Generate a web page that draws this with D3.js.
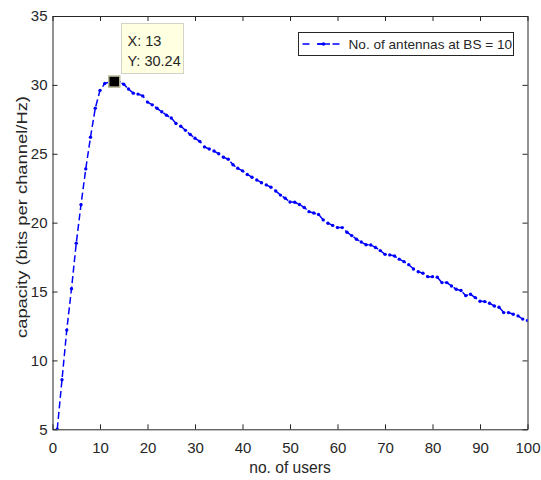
<!DOCTYPE html>
<html>
<head>
<meta charset="utf-8">
<script src="https://cdn.jsdelivr.net/npm/d3@7"></script>
<style>
  body { margin: 0; background: #fff; }
  svg { display: block; }
  text { font-family: "Liberation Sans", Arial, sans-serif; fill: #262626; }
</style>
</head>
<body>
<div id="chart"></div>
<script>
// capacity vs number of users
var users = d3.range(1, 101)
var capacity = [
    5.0, 8.6, 12.2, 15.2, 18.5, 21.3, 23.9, 26.2, 28.3, 29.6,
    30.1, 30.2, 30.24, 30.22, 30.05, 29.7, 29.4, 29.33, 29.2, 28.75,
    28.55, 28.3, 28.05, 27.8, 27.6, 27.2, 27.0, 26.7, 26.4, 26.13,
    25.9, 25.5, 25.35, 25.2, 25.0, 24.75, 24.6, 24.2, 23.95, 23.76,
    23.5, 23.3, 23.1, 22.9, 22.74, 22.57, 22.3, 22.0, 21.77, 21.5,
    21.48, 21.32, 21.1, 20.8, 20.7, 20.6, 20.2, 19.96, 19.8, 19.64,
    19.64, 19.3, 19.06, 18.8, 18.6, 18.4, 18.38, 18.2, 17.97, 17.7,
    17.66, 17.58, 17.35, 17.17, 16.95, 16.64, 16.44, 16.33, 16.08, 16.08,
    16.04, 15.65, 15.65, 15.4, 15.17, 15.07, 14.7, 14.8, 14.56, 14.3,
    14.27, 14.15, 13.95, 13.86, 13.47, 13.47, 13.35, 13.23, 13.0, 12.9
]
var xTicks = [0, 10, 20, 30, 40, 50, 60, 70, 80, 90, 100]
var yTicks = [5, 10, 15, 20, 25, 30, 35]
var seriesName = "No. of antennas at BS = 10"
var tipIndex = 12

const width = 541
const height = 480
const margins = { top: 16, right: 13.5, bottom: 50.7, left: 52.5 }

const data = users.map((u, i) => ({ x: u, y: capacity[i] }))

const svg = d3.select("#chart").append("svg")
    .attr("width", width)
    .attr("height", height)

const x = d3.scaleLinear().domain([0, 100]).range([margins.left, width - margins.right])
const y = d3.scaleLinear().domain([5, 35]).range([height - margins.bottom, margins.top])

const plotW = width - margins.right - margins.left
const plotH = height - margins.bottom - margins.top

svg.append("clipPath").attr("id", "plot-clip")
    .append("rect")
    .attr("x", margins.left).attr("y", margins.top)
    .attr("width", plotW).attr("height", plotH)

// axes, ticks pointing inwards, mirrored on top and right
function styleAxis(g) {
    g.selectAll("path").attr("stroke", "#262626")
    g.selectAll("line").attr("stroke", "#262626")
    g.selectAll("text").style("font-size", "15px").attr("fill", "#262626")
}

svg.append("g")
    .attr("transform", `translate(0,${height - margins.bottom})`)
    .call(d3.axisBottom(x).tickValues(xTicks).tickSize(-5).tickSizeOuter(0).tickPadding(13))
    .call(styleAxis)
svg.append("g")
    .attr("transform", `translate(0,${margins.top})`)
    .call(d3.axisTop(x).tickValues(xTicks).tickSize(-5).tickSizeOuter(0).tickFormat(""))
    .call(styleAxis)
svg.append("g")
    .attr("transform", `translate(${margins.left},0)`)
    .call(d3.axisLeft(y).tickValues(yTicks).tickSize(-5).tickSizeOuter(0).tickPadding(5))
    .call(styleAxis)
svg.append("g")
    .attr("transform", `translate(${width - margins.right},0)`)
    .call(d3.axisRight(y).tickValues(yTicks).tickSize(-5).tickSizeOuter(0).tickFormat(""))
    .call(styleAxis)

svg.selectAll(".domain").attr("fill", "none")

// labels
svg.append("text")
    .text("no. of users")
    .attr("x", (x(0) + x(100)) / 2)
    .attr("y", 472.5)
    .attr("text-anchor", "middle")
    .style("font-size", "15.6px")
svg.append("text")
    .text("capacity (bits per channel/Hz)")
    .attr("transform", `translate(27,217) rotate(-90)`)
    .attr("text-anchor", "middle")
    .attr("textLength", 242)
    .attr("lengthAdjust", "spacingAndGlyphs")
    .style("font-size", "14px")

// the series
const plot = svg.append("g").attr("clip-path", "url(#plot-clip)")
plot.append("path")
    .datum(data)
    .attr("fill", "none")
    .attr("stroke", "#0000ff")
    .attr("stroke-width", 1.5)
    .attr("stroke-dasharray", "7,3.5")
    .attr("d", d3.line().x(d => x(d.x)).y(d => y(d.y)))
plot.selectAll(".dot")
    .data(data)
    .enter()
    .append("circle")
    .attr("class", "dot")
    .attr("cx", d => x(d.x))
    .attr("cy", d => y(d.y))
    .attr("r", 1.7)
    .attr("fill", "#0000ff")

// legend
const legend = svg.append("g")
legend.append("rect")
    .attr("x", 298.5).attr("y", 32.5)
    .attr("width", 215).attr("height", 23)
    .attr("fill", "#fff")
    .attr("stroke", "#262626")
    .attr("stroke-width", 1)
legend.append("line")
    .attr("x1", 302.5).attr("x2", 345.5)
    .attr("y1", 44).attr("y2", 44)
    .attr("stroke", "#0000ff")
    .attr("stroke-width", 1.5)
    .attr("stroke-dasharray", "7,8")
legend.append("line")
    .attr("x1", 317).attr("x2", 330)
    .attr("y1", 44).attr("y2", 44)
    .attr("stroke", "#0000ff")
    .attr("stroke-width", 1.5)
legend.append("circle")
    .attr("cx", 323.5).attr("cy", 44).attr("r", 1.7)
    .attr("fill", "#0000ff")
legend.append("text")
    .text(seriesName)
    .attr("x", 348.5)
    .attr("y", 49)
    .style("font-size", "13.6px")
    .attr("fill", "#000")

// data tip
const tip = data[tipIndex]
svg.append("rect")
    .attr("x", x(tip.x) - 5.5).attr("y", y(tip.y) - 5.5)
    .attr("width", 11).attr("height", 11)
    .attr("fill", "#000")
    .attr("stroke", "#b4b496")
    .attr("stroke-width", 1.5)
const tipBox = svg.append("g")
tipBox.append("rect")
    .attr("x", 121.5).attr("y", 23.5)
    .attr("width", 62).attr("height", 50)
    .attr("fill", "#ffffe1")
    .attr("stroke", "#d2d2c8")
    .attr("stroke-width", 1)
tipBox.append("text")
    .text(`X: ${tip.x}`)
    .attr("x", 127.5).attr("y", 46)
    .style("font-size", "14.5px")
    .attr("fill", "#000")
tipBox.append("text")
    .text(`Y: ${tip.y.toFixed(2)}`)
    .attr("x", 127.5).attr("y", 65.5)
    .style("font-size", "14.5px")
    .attr("fill", "#000")
</script>
</body>
</html>
